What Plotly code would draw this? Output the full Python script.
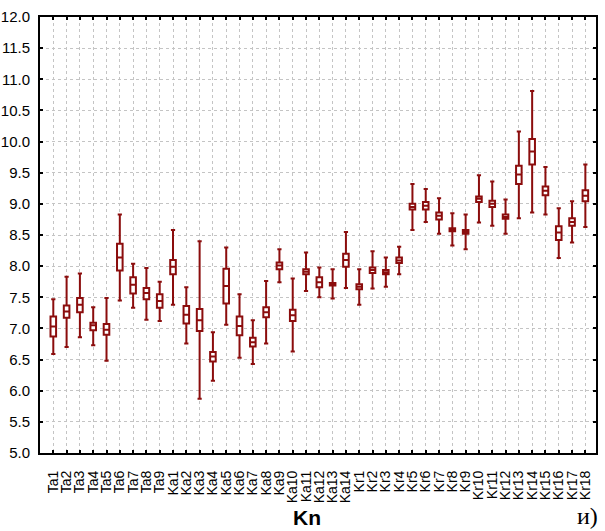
import plotly.graph_objects as go

categories = ["Ta1","Ta2","Ta3","Ta4","Ta5","Ta6","Ta7","Ta8","Ta9",
              "Ka1","Ka2","Ka3","Ka4","Ka5","Ka6","Ka7","Ka8","Ka9","Ka10","Ka11","Ka12","Ka13","Ka14",
              "Kr1","Kr2","Kr3","Kr4","Kr5","Kr6","Kr7","Kr8","Kr9","Kr10","Kr11","Kr12","Kr13","Kr14","Kr15","Kr16","Kr17","Kr18"]

upper = [7.47,7.83,7.88,7.34,7.49,8.83,8.04,7.97,7.75,
         8.58,7.66,8.40,6.94,8.30,7.55,7.13,7.76,8.27,7.80,8.22,7.98,7.95,8.55,
         7.95,8.24,8.14,8.31,9.32,9.24,9.09,8.85,8.83,9.46,9.36,9.07,10.16,10.81,9.59,8.93,9.04,9.63]
q3 = [7.19,7.37,7.49,7.09,7.07,8.36,7.82,7.65,7.55,
      8.10,7.36,7.31,6.62,7.96,7.19,6.85,7.34,8.06,7.30,7.95,7.82,7.73,8.20,
      7.71,7.98,7.94,8.14,9.00,9.03,8.86,8.61,8.58,9.12,9.05,8.83,9.61,10.04,9.28,8.64,8.77,9.22]
median = [7.03,7.27,7.38,7.05,6.98,8.14,7.70,7.57,7.44,
          7.99,7.22,7.13,6.55,7.68,7.04,6.78,7.26,8.01,7.21,7.91,7.74,7.72,8.10,
          7.67,7.94,7.90,8.09,8.95,8.97,8.81,8.59,8.55,9.08,9.00,8.79,9.47,9.84,9.21,8.54,8.71,9.13]
q1 = [6.87,7.17,7.26,6.97,6.90,7.93,7.56,7.47,7.33,
      7.87,7.08,6.96,6.47,7.40,6.89,6.71,7.18,7.95,7.12,7.87,7.66,7.69,7.99,
      7.63,7.89,7.87,8.05,8.91,8.91,8.75,8.56,8.52,9.03,8.95,8.76,9.32,9.63,9.14,8.42,8.65,9.04]
lower = [6.59,6.70,6.86,6.73,6.48,7.45,7.33,7.14,7.12,
         7.38,6.76,5.87,6.16,7.06,6.53,6.43,6.76,7.74,6.63,7.60,7.50,7.48,7.65,
         7.38,7.64,7.67,7.87,8.58,8.71,8.52,8.33,8.27,8.70,8.65,8.52,8.77,8.86,8.83,8.13,8.38,8.63]

y_ticks = [5.0 + 0.5 * i for i in range(15)]

RED = "#8b0d0d"

fig = go.Figure()
fig.add_trace(go.Box(
    x=categories, q1=q1, median=median, q3=q3,
    lowerfence=lower, upperfence=upper,
    fillcolor="white", line=dict(color=RED, width=2),
    width=0.42, whiskerwidth=0.75, boxpoints=False, showlegend=False,
    hoverinfo="skip",
))

fig.update_layout(
    width=605, height=531,
    margin=dict(l=40, r=9, t=17, b=78, autoexpand=False),
    paper_bgcolor="white", plot_bgcolor="white",
    font=dict(family="Liberation Sans, Arial, sans-serif", color="black"),
    showlegend=False,
)
fig.update_xaxes(
    type="category", categoryorder="array", categoryarray=categories,
    tickmode="array", tickvals=categories, ticktext=categories,
    range=[-1, 40.8], automargin=False,
    tickangle=-90, tickfont=dict(size=14),
    ticks="inside", ticklen=3, tickwidth=1.5, tickcolor="black",
    showline=True, linecolor="black", linewidth=2, mirror="ticks",
    showgrid=True, gridcolor="#c4c4c4", griddash="dot", gridwidth=1,
    zeroline=False, ticklabelstandoff=10,
)
fig.update_yaxes(
    range=[5.0, 12.0], tickvals=y_ticks, tickformat=".1f", automargin=False,
    tickfont=dict(size=15),
    ticks="inside", ticklen=3, tickwidth=1.5, tickcolor="black",
    showline=True, linecolor="black", linewidth=2, mirror="ticks",
    showgrid=True, gridcolor="#c4c4c4", griddash="dot", gridwidth=1,
    zeroline=False, ticklabelstandoff=5,
)
fig.add_annotation(text="<b>Kn</b>", xref="paper", yref="paper", x=0.48, y=0,
                   yshift=-77, showarrow=False, xanchor="center", yanchor="bottom",
                   borderpad=0,
                   font=dict(size=21, family="Liberation Sans, Arial, sans-serif"))
fig.add_annotation(text="и)", xref="paper", yref="paper", x=0.985, y=0,
                   yshift=-77, showarrow=False, xanchor="center", yanchor="bottom",
                   borderpad=0,
                   font=dict(size=24, family="Liberation Serif, serif"))

fig.write_html("out.html", config={"displayModeBar": False},
               post_script="document.body.style.margin='0';document.body.style.overflow='hidden';")
